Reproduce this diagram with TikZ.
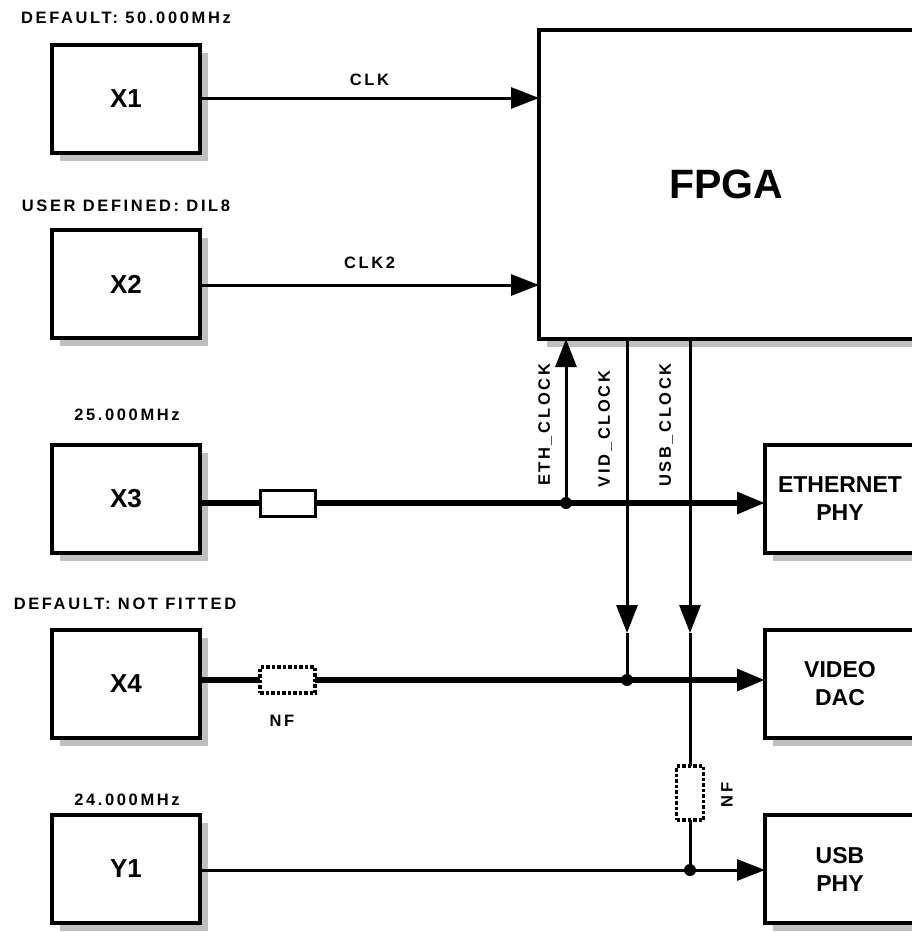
\documentclass[tikz,border=0pt]{standalone}
\usepackage{fontspec}
\setmainfont{Liberation Sans}
\newfontfamily\lblfont{Liberation Sans}[LetterSpace=16]
\usetikzlibrary{arrows.meta,shadows}
\begin{document}
\begin{tikzpicture}[x=1pt,y=-1pt,
  blk/.style={draw, line width=3.5pt, fill=white, outer sep=0pt, inner sep=0pt, align=center,
    drop shadow={shadow xshift=8pt, shadow yshift=-8pt, fill=black!25, opacity=1}},
  xbox/.style={blk, minimum width=148pt, minimum height=108pt, font=\fontsize{26}{30}\selectfont\bfseries},
  rbox/.style={blk, minimum width=150pt, minimum height=108pt, font=\fontsize{23}{28}\selectfont\bfseries},
  lbl/.style={inner sep=0pt, font={\lblfont\fontsize{16.5}{19}\selectfont\bfseries}},
  res/.style={draw, line width=3pt, fill=white, inner sep=0pt, outer sep=0pt, minimum width=55pt, minimum height=26pt},
  nfres/.style={res, line width=3.5pt, dash pattern=on 3.5pt off 2pt},
  thinln/.style={line width=3pt},
  thickln/.style={line width=6pt},
  tip/.tip={Triangle[length=28pt,width=21pt]},
  dot/.style={circle, fill=black, inner sep=0pt, minimum size=12pt}
]
\useasboundingbox (0,0) rectangle (912,932);

% crystal boxes
\node[xbox] (x1) at (126,99) {X1};
\node[xbox] (x2) at (126,284) {X2};
\node[xbox] (x3) at (126,499) {X3};
\node[xbox] (x4) at (126,684) {X4};
\node[xbox] (y1) at (126,869) {Y1};

% FPGA and PHY boxes
\node[blk, minimum width=374.5pt, minimum height=309pt, font=\fontsize{41}{48}\selectfont\bfseries] (fpga) at (726.25,184.5) {FPGA};
\node[rbox] (eth) at (840,499) {ETHERNET\\PHY};
\node[rbox] (dac) at (840,684) {VIDEO\\DAC};
\node[rbox] (usb) at (840,869) {USB\\PHY};

% labels above crystals
\node[lbl] (t1) at (126,17.5) {DEFAULT: 50.000MHz};
\node[lbl] (t2) at (126,206) {USER DEFINED: DIL8};
\node[lbl] (t3) at (127,415) {25.000MHz};
\node[lbl] (t4) at (125,604) {DEFAULT: NOT FITTED};
\node[lbl] (t5) at (127,800) {24.000MHz};

% junction coordinates
\coordinate (l1) at (0,98);
\coordinate (l2) at (0,285);
\coordinate (jeth) at (566,503);
\coordinate (jvid) at (627,680);
\coordinate (jusb) at (690,870);
\coordinate (avid) at (627,633);
\coordinate (ausb) at (690,633);

% resistors
\node[res] (r3) at (287.5,503) {};
\node[nfres] (r4) at (287.5,680) {};
\node[nfres, minimum width=27pt, minimum height=54pt] (r5) at (690,793) {};

% clock lines
\draw[thinln,-{tip}] (x1.east |- l1) -- node[lbl, above=11pt] (clk) {CLK} (fpga.west |- l1);
\draw[thinln,-{tip}] (x2.east |- l2) -- node[lbl, above=15pt] (clk2) {CLK2} (fpga.west |- l2);

\draw[thickln] (x3.east |- jeth) -- (r3.west);
\draw[thickln,-{tip}] (r3.east) -- (eth.west |- jeth);

\draw[thickln] (x4.east |- jvid) -- (r4.west);
\draw[thickln,-{tip}] (r4.east) -- (dac.west |- jvid);

\draw[thinln,-{tip}] (y1.east |- jusb) -- (usb.west |- jusb);

\draw[thinln,-{tip}] (jeth) -- (jeth |- fpga.south);
\draw[thinln,-{tip}] (fpga.south -| avid) -- (avid);
\draw[thinln] (avid) -- (jvid);
\draw[thinln,-{tip}] (fpga.south -| ausb) -- (ausb);
\draw[thinln] (ausb) -- (r5.north);
\draw[thinln] (r5.south) -- (jusb);

\node[dot] (d1) at (jeth) {};
\node[dot] (d2) at (jvid) {};
\node[dot] (d3) at (jusb) {};

% vertical labels
\node[lbl, rotate=90] (ethl) at (545,425) {ETH\_CLOCK};
\node[lbl, rotate=90] (vidl) at (605,429) {VID\_CLOCK};
\node[lbl, rotate=90] (usbl) at (666,425) {USB\_CLOCK};
\node[lbl] (nf1) at (282,721) {NF};
\node[lbl, rotate=90] (nf2) at (727,795) {NF};
\end{tikzpicture}
\end{document}
